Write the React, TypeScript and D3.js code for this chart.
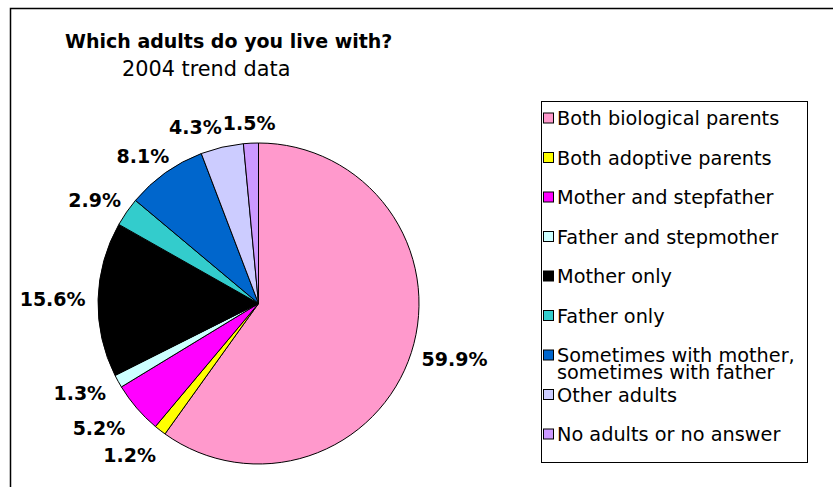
import React from "react";
import * as d3 from "d3";

const categories = [
  "Both biological parents",
  "Both adoptive parents",
  "Mother and stepfather",
  "Father and stepmother",
  "Mother only",
  "Father only",
  "Sometimes with mother, sometimes with father",
  "Other adults",
  "No adults or no answer",
];
const legendLines = [
  ["Both biological parents"],
  ["Both adoptive parents"],
  ["Mother and stepfather"],
  ["Father and stepmother"],
  ["Mother only"],
  ["Father only"],
  ["Sometimes with mother,", "sometimes with father"],
  ["Other adults"],
  ["No adults or no answer"],
];
const values = [59.9, 1.2, 5.2, 1.3, 15.6, 2.9, 8.1, 4.3, 1.5];
const colors = [
  "#FF99CC",
  "#FFFF00",
  "#FF00FF",
  "#CCFFFF",
  "#000000",
  "#33CCCC",
  "#0066CC",
  "#CCCCFF",
  "#CC99FF",
];
const title = "Which adults do you live with?";
const subtitle = "2004 trend data";

const W = 833;
const H = 487;
const FONT = "'DejaVu Sans', Verdana, sans-serif";
const LABEL_SIZE = 19;
const LEGEND_SIZE = 19.3;

function measure(text: string, weight: string, size: number) {
  const c = document.createElement("canvas");
  const ctx = c.getContext("2d")!;
  ctx.font = `${weight} ${size}px 'DejaVu Sans'`;
  return ctx.measureText(text).width;
}

export default function App() {
  const cx = 258.5;
  const cy = 303.5;
  const R = 160.5;
  const pie = d3.pie<number>().sort(null).value((d) => d);
  const arcs = pie(values);
  const arcGen = d3.arc<d3.PieArcDatum<number>>().innerRadius(0).outerRadius(R);

  const labels = arcs.map((a, i) => {
    const text = `${values[i].toFixed(1)}%`;
    const w = measure(text, "bold", LABEL_SIZE);
    const h = 16;
    const m = (a.startAngle + a.endAngle) / 2;
    const s = Math.sin(m);
    const c = -Math.cos(m);
    const off = 173 + 11 * Math.max(0, Math.min(1, (c - 0.35) / 0.3));
    const x = off * s + (w / 2) * s;
    const y = off * c + (h / 2) * c;
    return { text, w, h, x, y, m };
  });
  for (let i = labels.length - 2; i >= 0; i--) {
    const a = labels[i];
    const b = labels[i + 1];
    if (a.m < Math.PI * 1.5) break;
    const overlapX = a.x + a.w / 2 > b.x - b.w / 2 && a.x - a.w / 2 < b.x + b.w / 2;
    const overlapY = Math.abs(a.y - b.y) < (a.h + b.h) / 2;
    if (overlapX && overlapY) {
      a.x = b.x - b.w / 2 - a.w / 2 - 1;
    }
  }

  const legendX = 541;
  const legendY = 101;
  const legendW = 266;
  const legendH = 361;
  const rowStep = 39.5;

  const legendItems = legendLines.map((lines, i) => ({ lines, y: legendY + 17 + i * rowStep, i }));

  return (
    <svg
      width={W}
      height={H}
      style={{ position: "absolute", left: 0, top: 0, background: "#fff" }}
      fontFamily={FONT}
    >
      <rect x={0} y={0} width={W} height={H} fill="#fff" />
      <rect x={10.5} y={8.5} width={W + 20} height={H + 20} fill="none" stroke="#000" strokeWidth={1.5} />
      <text x={65} y={48} fontSize={19} fontWeight="bold" fill="#000">
        {title}
      </text>
      <text x={122} y={76} fontSize={20.8} fill="#000">
        {subtitle}
      </text>

      <g transform={`translate(${cx},${cy})`}>
        {arcs.map((a, i) => (
          <path key={categories[i]} d={arcGen(a) || ""} fill={colors[i]} stroke="#000" strokeWidth={1} strokeLinejoin="round" />
        ))}
        {labels.map((l, i) => (
          <text
            key={"l" + i}
            x={l.x}
            y={l.y + LABEL_SIZE * 0.36}
            textAnchor="middle"
            fontSize={LABEL_SIZE}
            fontWeight="bold"
            fill="#000"
          >
            {l.text}
          </text>
        ))}
      </g>

      <rect x={legendX + 0.5} y={legendY + 0.5} width={legendW} height={legendH} fill="#fff" stroke="#000" strokeWidth={1} />
      {legendItems.map(({ lines, y, i }) => (
        <g key={"lg" + i}>
          <rect x={legendX + 2.5} y={y - 5} width={10} height={10} fill={colors[i]} stroke="#000" strokeWidth={1} />
          {lines.map((ln, k) => (
            <text key={k} x={legendX + 16} y={y + 7 + k * 17} fontSize={LEGEND_SIZE} fill="#000">
              {ln}
            </text>
          ))}
        </g>
      ))}
    </svg>
  );
}
